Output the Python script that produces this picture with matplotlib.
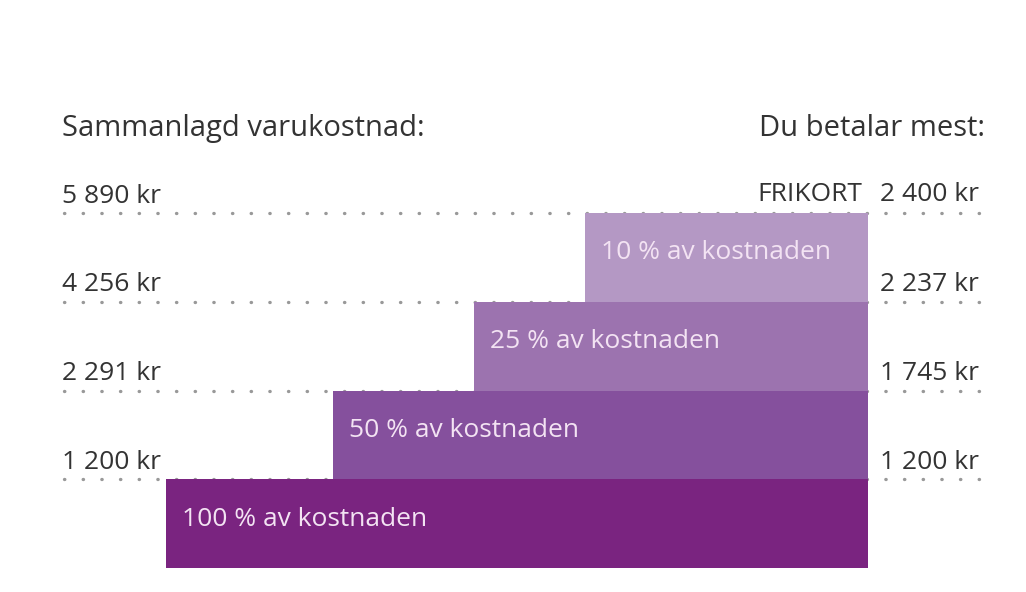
import matplotlib.pyplot as plt

# data
tiers = ["100 % av kostnaden", "50 % av kostnaden", "25 % av kostnaden", "10 % av kostnaden"]
cost_labels = ["1 200 kr", "2 291 kr", "4 256 kr", "5 890 kr"]
pay_labels = ["1 200 kr", "1 745 kr", "2 237 kr", "2 400 kr"]
bar_start = [166, 333, 474, 585]
bar_end = 868
colors = ["#7a2480", "#85509d", "#9c73af", "#b498c4"]

plt.rcParams['font.family'] = ['Open Sans', 'DejaVu Sans']
txt = "#333333"

fig = plt.figure(figsize=(10.26, 5.92), dpi=100)
ax = fig.add_axes([0, 0, 1, 1])
step = 88.75
ax.set_xlim(0, 1026)
ax.set_ylim((568 - 592) / step, 568 / step)
ax.axis('off')

fs = 19
for i in range(4):
    # dotted guide line at top of each tier
    ax.plot([64, 995], [i + 1, i + 1], linestyle=(0, (0.1, 5.5)), color="#999999",
            linewidth=2.4, dash_capstyle='round', zorder=1)
    ax.barh(i + 0.5, bar_end - bar_start[i], left=bar_start[i], height=1,
            color=colors[i], zorder=2)
    ax.text(bar_start[i] + 16, i + 0.55, tiers[i], color="#f3e3f3",
            fontsize=fs, va='center', ha='left', zorder=3)
    ax.text(62, i + 1.05, cost_labels[i], color=txt, fontsize=fs,
            va='bottom', ha='left')
    if i < 3:
        ax.text(880, i + 1.05, pay_labels[i], color=txt, fontsize=fs,
                va='bottom', ha='left')

ax.text(880, 4.07, pay_labels[3], color=txt, fontsize=fs, va='bottom', ha='left')
ax.text(862, 4.07, "FRIKORT", color=txt, fontsize=fs, va='bottom', ha='right')

ax.text(62, 4.95, "Sammanlagd varukostnad:", color=txt, fontsize=21,
        va='center', ha='left')
ax.text(985, 4.95, "Du betalar mest:", color=txt, fontsize=21,
        va='center', ha='right')

fig.savefig("out.png", dpi=100, facecolor="white")
